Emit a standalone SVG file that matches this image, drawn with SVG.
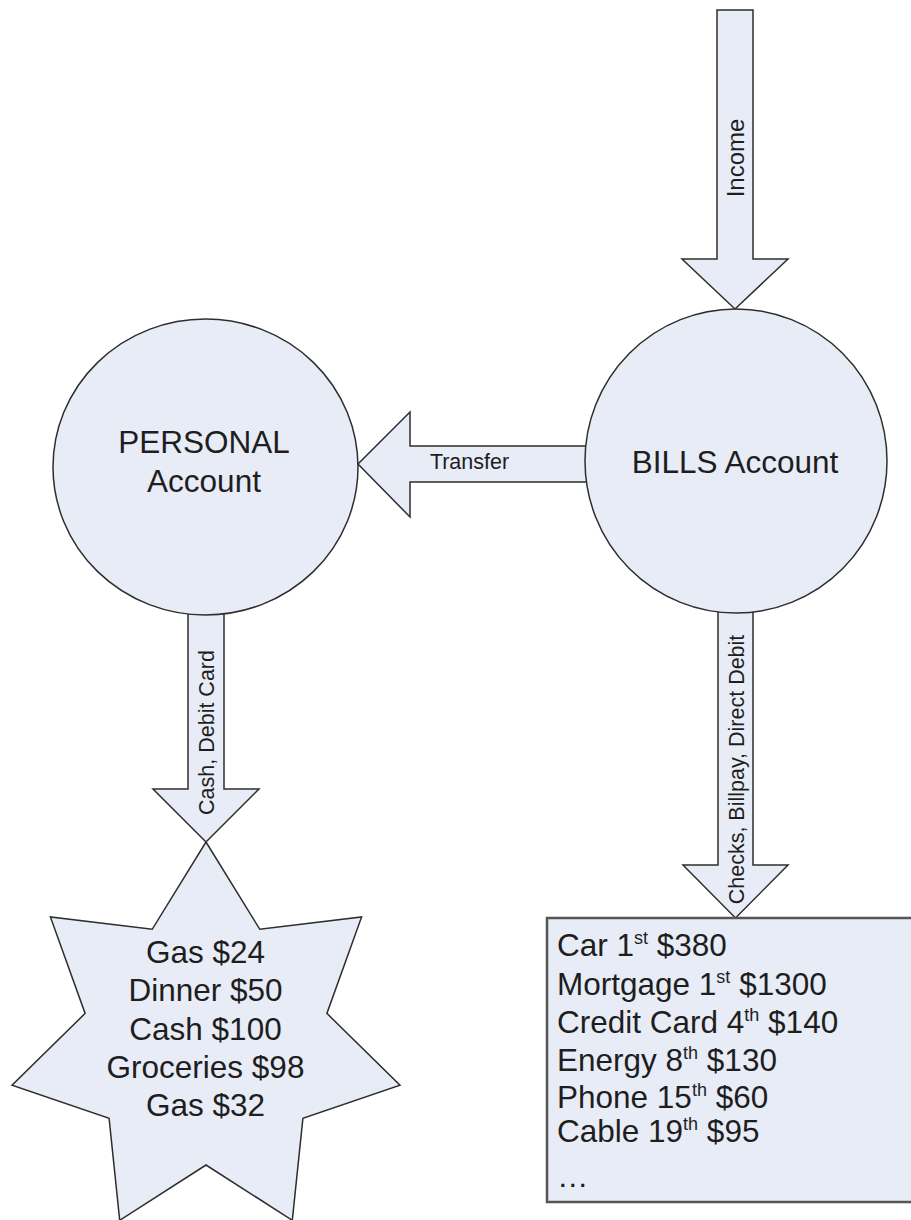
<svg xmlns="http://www.w3.org/2000/svg" width="911" height="1220" viewBox="0 0 911 1220">
  <style>
    .shape { fill: #E8ECF6; stroke: #2e2e2e; stroke-width: 1.5; stroke-linejoin: miter; }
    .box { fill: #E8ECF6; stroke: #555; stroke-width: 2.5; }
    .t { font-family: "Liberation Sans", Arial, sans-serif; fill: #1e1e1e; }
    .big { font-size: 31.5px; }
    .lbl { font-size: 21.5px; }
    .mid { text-anchor: middle; }
    .sup { font-size: 18px; }
  </style>
  <rect x="0" y="0" width="911" height="1220" fill="#ffffff"/>

  <g id="connectors">
    <g id="income">
      <polygon class="shape" points="717,10 753,10 753,259 788,259 735,309 682,259 717,259"/>
      <text class="t mid" font-size="24" transform="translate(735,158) rotate(-90)" y="8.5">Income</text>
    </g>
    <g id="transfer">
      <polygon class="shape" points="594,446 410,446 410,412 358,464 410,517 410,482 594,482"/>
      <text class="t lbl mid" x="469.5" y="469">Transfer</text>
    </g>
    <g id="cash">
      <polygon class="shape" points="188,606 224,606 224,789 259,789 206,842 153,789 188,789"/>
      <text class="t lbl mid" transform="translate(206,732.5) rotate(-90)" y="7.7">Cash, Debit Card</text>
    </g>
    <g id="checks">
      <polygon class="shape" points="718,606 753,606 753,865 788,865 735.5,918 683,865 718,865"/>
      <text class="t lbl mid" transform="translate(736.5,769.5) rotate(-90)" y="7.7">Checks, Billpay, Direct Debit</text>
    </g>
  </g>

  <g id="personal">
    <ellipse class="shape" cx="205.5" cy="467" rx="152.5" ry="148"/>
    <text class="t big mid" x="204" y="453">PERSONAL</text>
    <text class="t big mid" x="204" y="492">Account</text>
  </g>

  <g id="bills">
    <ellipse class="shape" cx="736" cy="461" rx="151" ry="152"/>
    <text class="t big mid" x="735" y="473">BILLS Account</text>
  </g>

  <g id="spending">
    <polygon class="shape" points="206,842 259.8,929.3 361.6,916.9 326.9,1013.4 400,1085.3 302.9,1118.3 292.3,1220.3 206,1165 119.7,1220.3 109.1,1118.3 12,1085.3 85.1,1013.4 50.4,916.9 152.2,929.3"/>
    <text class="t big mid" x="205.5" y="963">Gas $24</text>
    <text class="t big mid" x="205.5" y="1001">Dinner $50</text>
    <text class="t big mid" x="205.5" y="1039.5">Cash $100</text>
    <text class="t big mid" x="205.5" y="1077.5">Groceries $98</text>
    <text class="t big mid" x="205.5" y="1116">Gas $32</text>
  </g>

  <g id="bills-list">
    <rect class="box" x="547" y="918" width="400" height="284"/>
    <text class="t big" x="557" y="956">Car 1<tspan class="sup" dy="-12">st</tspan><tspan dy="12"> $380</tspan></text>
    <text class="t big" x="557" y="995">Mortgage 1<tspan class="sup" dy="-12">st</tspan><tspan dy="12"> $1300</tspan></text>
    <text class="t big" x="557" y="1033">Credit Card 4<tspan class="sup" dy="-12">th</tspan><tspan dy="12"> $140</tspan></text>
    <text class="t big" x="557" y="1071">Energy 8<tspan class="sup" dy="-12">th</tspan><tspan dy="12"> $130</tspan></text>
    <text class="t big" x="557" y="1108">Phone 15<tspan class="sup" dy="-12">th</tspan><tspan dy="12"> $60</tspan></text>
    <text class="t big" x="557" y="1142">Cable 19<tspan class="sup" dy="-12">th</tspan><tspan dy="12"> $95</tspan></text>
    <text class="t big" x="557" y="1187">…</text>
  </g>
</svg>
